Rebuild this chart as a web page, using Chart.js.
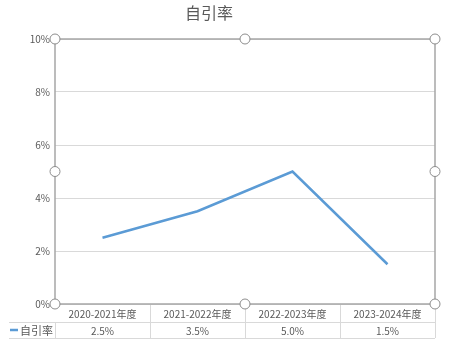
<!DOCTYPE html>
<html lang="zh">
  <head>
    <meta charset="UTF-8" />
    <title>自引率</title>
    <script src="https://cdn.jsdelivr.net/npm/chart.js"></script>
    <style>
      html, body { margin: 0; padding: 0; background: #fff; }
      #wrap { width: 461px; height: 352px; position: relative; }
    </style>
  </head>
  <body>
    <div id="wrap"><canvas id="chart"></canvas></div>
    <script>
      // データ
      const chartTitle = "自引率";
      const seriesName = "自引率";
      const categories = ["2020-2021年度", "2021-2022年度", "2022-2023年度", "2023-2024年度"];
      const selfCitationRate = [2.5, 3.5, 5.0, 1.5];
      const yMin = 0;
      const yMax = 10;
      const yStep = 2;

      const FONT = "'Noto Sans CJK SC', 'Microsoft YaHei', sans-serif";
      const TEXT = "#595959";
      const LINE = "#5b9bd5";
      const TABLE_LINE = "#d9d9d9";

      // 表・枠・ハンドル描画
      const tablePlugin = {
        id: "tablePlugin",
        afterDraw(chart) {
          const ctx = chart.ctx;
          const a = chart.chartArea;
          const xs = chart.scales.x;
          const row1 = a.bottom + 18;
          const row2 = row1 + 16;
          const legendLeft = 9;

          ctx.save();
          // タイトル
          ctx.fillStyle = TEXT;
          ctx.font = "16px " + FONT;
          ctx.textAlign = "center";
          ctx.textBaseline = "middle";
          ctx.fillText(chartTitle, 209, 13);

          // 表の線
          ctx.strokeStyle = TABLE_LINE;
          ctx.lineWidth = 1;
          ctx.beginPath();
          ctx.moveTo(legendLeft, row1 + 0.5);
          ctx.lineTo(a.right, row1 + 0.5);
          ctx.moveTo(legendLeft, row2 + 0.5);
          ctx.lineTo(a.right, row2 + 0.5);
          ctx.moveTo(a.left + 0.5, row1);
          ctx.lineTo(a.left + 0.5, row2);
          ctx.moveTo(a.right + 0.5, a.bottom);
          ctx.lineTo(a.right + 0.5, row2);
          for (let i = 1; i < categories.length; i++) {
            const bx = Math.round((xs.getPixelForValue(i - 1) + xs.getPixelForValue(i)) / 2) + 0.5;
            ctx.moveTo(bx, a.bottom);
            ctx.lineTo(bx, row2);
          }
          ctx.stroke();

          // カテゴリと値
          ctx.fillStyle = TEXT;
          ctx.font = "10px " + FONT;
          categories.forEach((c, i) => {
            const cx = xs.getPixelForValue(i);
            ctx.fillText(c, cx, (a.bottom + row1) / 2 + 1);
            ctx.fillText(selfCitationRate[i].toFixed(1) + "%", cx, (row1 + row2) / 2 + 1);
          });

          // 凡例
          ctx.strokeStyle = LINE;
          ctx.lineWidth = 2.5;
          ctx.beginPath();
          ctx.moveTo(legendLeft + 1, (row1 + row2) / 2);
          ctx.lineTo(legendLeft + 9, (row1 + row2) / 2);
          ctx.stroke();
          ctx.font = "11px " + FONT;
          ctx.textAlign = "left";
          ctx.fillText(seriesName, legendLeft + 11, (row1 + row2) / 2 + 1);

          // 選択枠
          ctx.strokeStyle = "#a6a6a6";
          ctx.lineWidth = 1.5;
          ctx.strokeRect(a.left, a.top, a.right - a.left, a.bottom - a.top);
          const mx = (a.left + a.right) / 2;
          const my = (a.top + a.bottom) / 2;
          const handles = [
            [a.left, a.top], [mx, a.top], [a.right, a.top],
            [a.left, my], [a.right, my],
            [a.left, a.bottom], [mx, a.bottom], [a.right, a.bottom]
          ];
          ctx.fillStyle = "#ffffff";
          ctx.lineWidth = 1;
          ctx.strokeStyle = "#8c8c8c";
          handles.forEach(([hx, hy]) => {
            ctx.beginPath();
            ctx.arc(hx, hy, 5, 0, Math.PI * 2);
            ctx.fill();
            ctx.stroke();
          });
          ctx.restore();
        }
      };

      new Chart(document.getElementById("chart"), {
        type: "line",
        data: {
          labels: categories,
          datasets: [
            {
              label: seriesName,
              data: selfCitationRate,
              borderColor: LINE,
              borderWidth: 2.5,
              pointRadius: 0,
              tension: 0,
              fill: false
            }
          ]
        },
        options: {
          responsive: true,
          maintainAspectRatio: false,
          animation: false,
          layout: { padding: { top: 39, right: 26, bottom: 48, left: 0 } },
          plugins: {
            legend: { display: false },
            title: { display: false },
            tooltip: { enabled: false }
          },
          scales: {
            x: {
              offset: true,
              display: false
            },
            y: {
              min: yMin,
              max: yMax,
              ticks: {
                stepSize: yStep,
                padding: 5,
                color: TEXT,
                font: { size: 10, family: FONT },
                callback: (v) => v + "%"
              },
              grid: { color: TABLE_LINE, drawTicks: false },
              border: { display: false },
              afterFit(scale) {
                scale.width = 55;
              }
            }
          }
        },
        plugins: [tablePlugin]
      });
    </script>
  </body>
</html>
